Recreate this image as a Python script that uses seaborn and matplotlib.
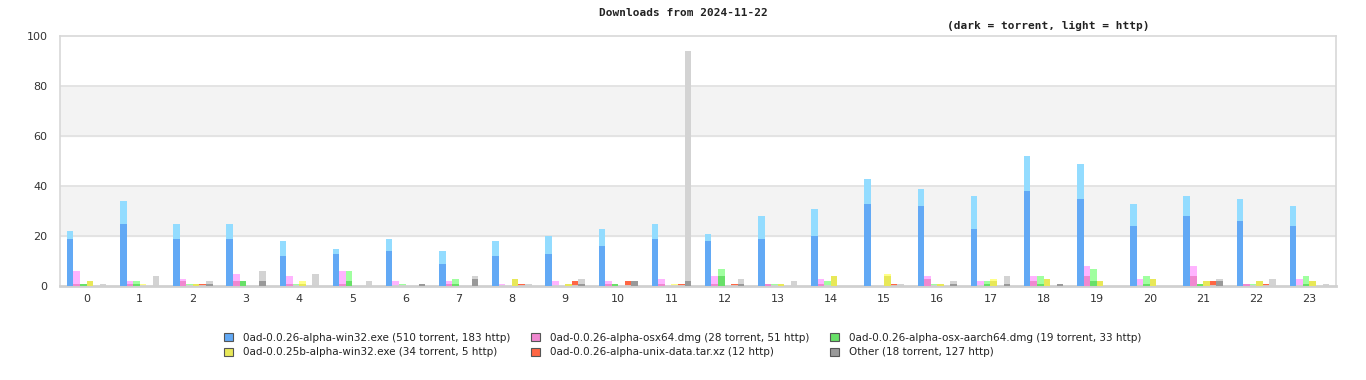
import numpy as np
import pandas as pd
import seaborn as sns
import matplotlib
matplotlib.use("Agg")
import matplotlib.pyplot as plt
from matplotlib.patches import Patch

hours = list(range(24))

files = [
    "0ad-0.0.26-alpha-win32.exe",
    "0ad-0.0.26-alpha-osx64.dmg",
    "0ad-0.0.26-alpha-osx-aarch64.dmg",
    "0ad-0.0.25b-alpha-win32.exe",
    "0ad-0.0.26-alpha-unix-data.tar.xz",
    "Other",
]

win32_torrent = [19, 25, 19, 19, 12, 13, 14, 9, 12, 13, 16, 19, 18, 19, 20, 33, 32, 23, 38, 35, 24, 28, 26, 24]
win32_http = [3, 9, 6, 6, 6, 2, 5, 5, 6, 7, 7, 6, 3, 9, 11, 10, 7, 13, 14, 14, 9, 8, 9, 8]

osx64_torrent = [1, 1, 2, 2, 1, 1, 0, 1, 0, 0, 1, 1, 1, 1, 1, 0, 3, 0, 2, 4, 0, 4, 1, 0]
osx64_total = [6, 2, 3, 5, 4, 6, 2, 2, 1, 2, 2, 3, 4, 1, 3, 0, 4, 2, 4, 8, 3, 8, 1, 3]

aarch_torrent = [1, 1, 0, 2, 0, 2, 0, 1, 0, 0, 1, 0, 4, 0, 0, 0, 0, 1, 1, 2, 1, 1, 0, 1]
aarch_total = [1, 2, 1, 2, 1, 6, 1, 3, 0, 0, 1, 0, 7, 1, 2, 0, 1, 2, 4, 7, 4, 1, 1, 4]

w25_torrent = [2, 0, 1, 0, 1, 0, 0, 0, 3, 1, 0, 0, 0, 1, 4, 4, 1, 2, 3, 2, 3, 2, 2, 2]
w25_http = [0, 1, 0, 0, 1, 0, 0, 0, 0, 0, 0, 1, 0, 0, 0, 1, 0, 1, 0, 0, 0, 0, 0, 0]

unix_torrent = [0] * 24
unix_http = [0, 0, 1, 0, 0, 0, 0, 0, 1, 2, 2, 1, 1, 0, 0, 1, 0, 0, 0, 0, 0, 2, 1, 0]

other_torrent = [0, 0, 1, 2, 0, 0, 1, 3, 0, 1, 2, 2, 1, 0, 0, 0, 1, 1, 1, 0, 0, 2, 0, 0]
other_http = [1, 4, 1, 4, 5, 2, 0, 1, 1, 2, 0, 92, 2, 2, 0, 1, 1, 3, 0, 0, 0, 1, 3, 1]

legend_labels = [
    "0ad-0.0.26-alpha-win32.exe (510 torrent, 183 http)",
    "0ad-0.0.26-alpha-osx64.dmg (28 torrent, 51 http)",
    "0ad-0.0.26-alpha-osx-aarch64.dmg (19 torrent, 33 http)",
    "0ad-0.0.25b-alpha-win32.exe (34 torrent, 5 http)",
    "0ad-0.0.26-alpha-unix-data.tar.xz (12 http)",
    "Other (18 torrent, 127 http)",
]

dark_colors = ["#62a9f5", "#f088d0", "#68e068", "#e8e858", "#ff6644", "#999999"]
light_colors = ["#93dcff", "#ffb4ff", "#a0ffa0", "#ffff88", "#ff6644", "#d3d3d3"]

torrent = [win32_torrent, osx64_torrent, aarch_torrent, w25_torrent, unix_torrent, other_torrent]
total = [
    [a + b for a, b in zip(win32_torrent, win32_http)],
    osx64_total,
    aarch_total,
    [a + b for a, b in zip(w25_torrent, w25_http)],
    [a + b for a, b in zip(unix_torrent, unix_http)],
    [a + b for a, b in zip(other_torrent, other_http)],
]

rows = []
for fi, f in enumerate(files):
    for h in hours:
        rows.append({"hour": h, "file": f, "torrent": torrent[fi][h], "total": total[fi][h]})
df = pd.DataFrame(rows)

sns.set_theme(style="white")
plt.rcParams["font.family"] = ["DejaVu Sans"]

fig = plt.figure(figsize=(13.66, 3.8), dpi=100)
ax = fig.add_axes([60 / 1366, 1 - 286 / 380, 1276 / 1366, 250 / 380])

ax.axhspan(20, 40, color="#f3f3f3", zorder=0)
ax.axhspan(60, 80, color="#f3f3f3", zorder=0)
for y in [20, 40, 60, 80]:
    ax.axhline(y, color="#e0e0e0", lw=1.2, zorder=0.5)

sns.barplot(data=df, x="hour", y="total", hue="file", hue_order=files,
            palette=light_colors, saturation=1, width=0.74, dodge=True,
            linewidth=0, errorbar=None, legend=False, ax=ax, zorder=2)
sns.barplot(data=df, x="hour", y="torrent", hue="file", hue_order=files,
            palette=dark_colors, saturation=1, width=0.74, dodge=True,
            linewidth=0, errorbar=None, legend=False, ax=ax, zorder=3)

ax.set_xlim(-0.5, 23.5)
ax.set_ylim(0, 100)
ax.set_yticks([0, 20, 40, 60, 80, 100])
ax.set_xlabel("")
ax.set_ylabel("")
ax.tick_params(axis="both", length=0, labelsize=8, colors="#333333", pad=6)
ax.tick_params(axis="y", pad=9)
for s in ax.spines.values():
    s.set_color("#d8d8d8")
    s.set_linewidth(1.2)
ax.spines["bottom"].set_color("#d0d0d0")
ax.spines["bottom"].set_linewidth(2)

fig.text(683 / 1366, 1 - 13 / 380, "Downloads from 2024-11-22", ha="center", va="center",
         fontsize=8, fontweight="bold", family="DejaVu Sans Mono", color="#222222")
fig.text(1048 / 1366, 1 - 26 / 380, "(dark = torrent, light = http)", ha="center", va="center",
         fontsize=8, fontweight="bold", family="DejaVu Sans Mono", color="#222222")

order = [0, 3, 1, 4, 2, 5]
handles = [Patch(facecolor=dark_colors[i], edgecolor="#555555", linewidth=0.8) for i in order]
labels = [legend_labels[i] for i in order]
fig.legend(handles, labels, ncol=3, loc="center", bbox_to_anchor=(683 / 1366, 1 - 345 / 380),
           frameon=False, fontsize=7.5, handlelength=0.8, handleheight=0.8, handletextpad=1.0,
           columnspacing=2.0, labelspacing=0.45, labelcolor="#222222")

fig.savefig("out.png", dpi=100)
